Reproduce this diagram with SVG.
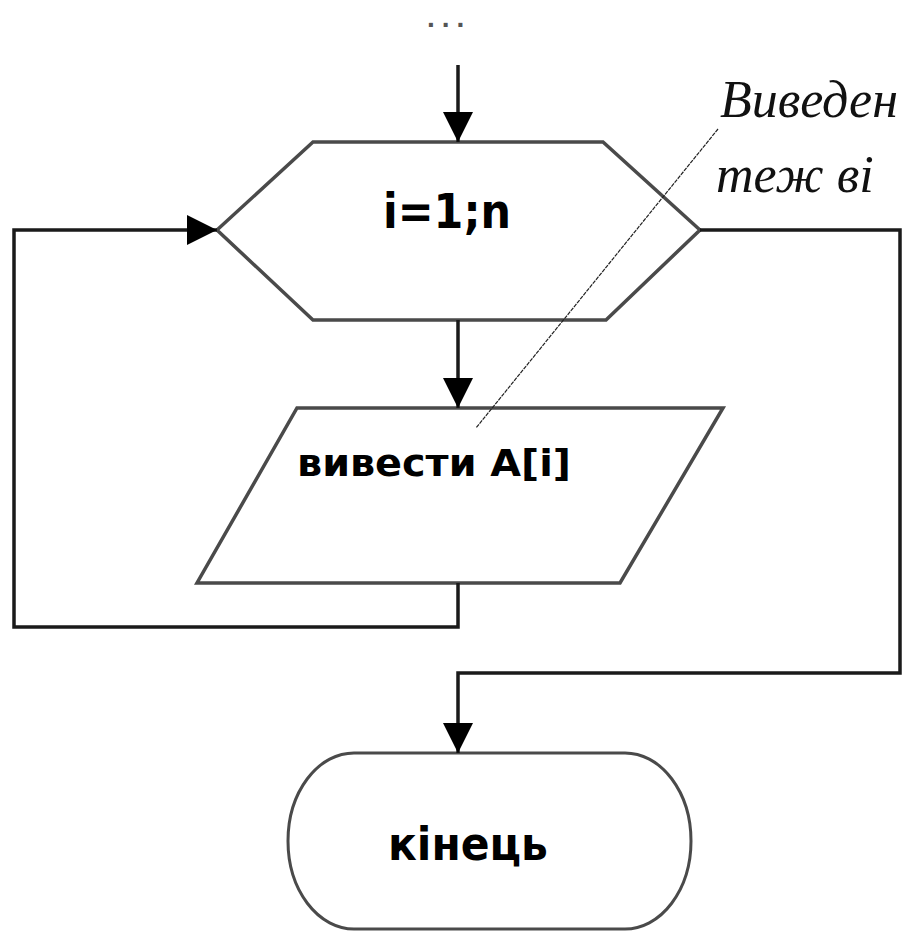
<svg xmlns="http://www.w3.org/2000/svg" width="902" height="933" viewBox="0 0 902 933">
  <style>
    .shape { fill: #ffffff; stroke: #4a4a4a; stroke-width: 3.5; stroke-linejoin: miter; }
    .wire { fill: none; stroke: #1a1a1a; stroke-width: 3.5; }
    .label { font-family: "DejaVu Sans", Verdana, sans-serif; font-weight: bold; fill: #000; }
    .note { font-family: "Liberation Serif", "DejaVu Serif", serif; font-style: italic; fill: #111; }
  </style>
  <defs>
    <marker id="arrow" viewBox="0 0 30 30" refX="30" refY="15" markerWidth="30" markerHeight="30" markerUnits="userSpaceOnUse" orient="auto">
      <path d="M0,0 L30,15 L0,30 Z" fill="#000"/>
    </marker>
  </defs>
  <rect width="902" height="933" fill="#ffffff"/>

  <!-- continuation marker above the loop -->
  <text x="427" y="27" font-family="Liberation Sans, sans-serif" font-weight="bold" font-size="28" letter-spacing="7" fill="#555">...</text>

  <!-- loop header -->
  <g id="loop">
    <polygon class="shape" points="313,142 603,142 700,230 606,320 313,320 217,230"/>
    <text class="label" x="447" y="228" font-size="48" text-anchor="middle" textLength="128" lengthAdjust="spacingAndGlyphs">i=1;n</text>
  </g>

  <!-- output block -->
  <g id="output">
    <polygon class="shape" points="297,408 723,408 620,583 197,583"/>
    <text class="label" x="297" y="476" font-size="38" textLength="274" lengthAdjust="spacingAndGlyphs">вивести A[i]</text>
  </g>

  <!-- terminator -->
  <g id="end">
    <rect class="shape" x="288" y="753" width="403" height="176" rx="66" ry="88" style="stroke-width:3"/>
    <text class="label" x="388" y="860" font-size="46" font-family="Noto Sans, sans-serif" textLength="160" lengthAdjust="spacingAndGlyphs">кінець</text>
  </g>

  <!-- connectors -->
  <g id="connectors">
    <line class="wire" x1="458" y1="65" x2="458" y2="142" marker-end="url(#arrow)"/>
    <line class="wire" x1="458" y1="320" x2="458" y2="408" marker-end="url(#arrow)"/>
    <polyline class="wire" points="458,583 458,627 14,627 14,230 217,230" marker-end="url(#arrow)"/>
    <polyline class="wire" points="700,230 900,230 900,673 458,673 458,753" marker-end="url(#arrow)"/>
  </g>

  <!-- side annotation with leader -->
  <g id="annotation">
    <line x1="718" y1="129" x2="476" y2="428" stroke="#222" stroke-width="1.2" stroke-dasharray="4,1"/>
    <text class="note" x="720" y="117" font-size="52">Виведен</text>
    <text class="note" x="716" y="192" font-size="52">теж ві</text>
  </g>
</svg>
